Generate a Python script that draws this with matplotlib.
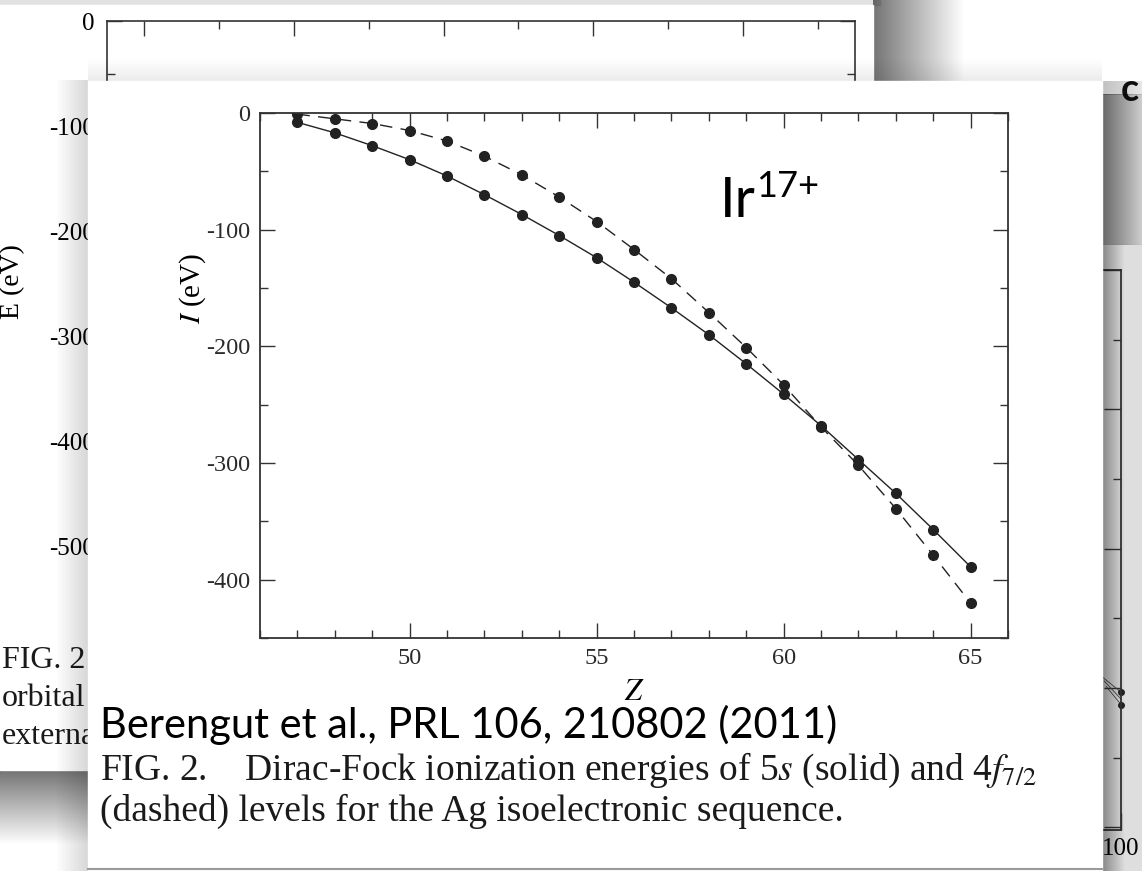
import numpy as np
import matplotlib
matplotlib.use('Agg')
import matplotlib.pyplot as plt
from matplotlib.patches import Rectangle
from matplotlib.ticker import MultipleLocator

# Dirac-Fock ionization energies, Ag isoelectronic sequence
Z = [47, 48, 49, 50, 51, 52, 53, 54, 55, 56, 57, 58, 59, 60, 61, 62, 63, 64, 65]
E_5s = [-8, -17, -28, -40, -54, -70, -87, -105, -124, -145, -167, -190, -215,
        -241, -268, -297, -326, -357, -389]
E_4f72 = [-1, -5, -9, -15, -24, -37, -53, -72, -93, -117, -142, -171, -201,
          -233, -269, -302, -339, -379, -420]

x_ticks = [50, 55, 60, 65]
y_ticks = [0, -100, -200, -300, -400]
back_y_ticks = [0, -100, -200, -300, -400, -500]

# bits of the slide figure on the right that peek out
right_x = [100, 100]
right_y = [-3.03, -3.12]
right_lines_x = [[95.5, 100], [96.0, 100], [96.5, 100]]
right_lines_y = [[-2.92, -3.03], [-2.95, -3.08], [-2.99, -3.12]]

plt.rcParams['font.family'] = ['Liberation Serif', 'DejaVu Serif']
plt.rcParams['mathtext.fontset'] = 'stix'
plt.rcParams['axes.unicode_minus'] = False

W, H = 1142, 871
ink = '#222222'


def box(x0, y0, x1, y1):
    # pixel box (y down) -> figure fraction
    return [x0 / W, 1 - y1 / H, (x1 - x0) / W, (y1 - y0) / H]


def shade(ax, x0, x1, y0, y1, a0, a1, axis='x', z=1):
    t = np.linspace(a0, a1, 100)
    if axis == 'x':
        img = np.zeros((2, 100, 4))
        img[:, :, 3] = t
    else:
        img = np.zeros((100, 2, 4))
        img[:, :, 3] = t[:, None]
    ax.imshow(img, extent=(x0, x1, y1, y0), aspect='auto',
              interpolation='bilinear', zorder=z)


def pixel_axes(z):
    ax = fig.add_axes([0, 0, 1, 1], zorder=z)
    ax.set_facecolor('none')
    ax.set_autoscale_on(False)
    ax.axis('off')
    return ax


fig = plt.figure(figsize=(W / 100, H / 100), dpi=100, facecolor='white')

# ---- slide background + the paper figure behind ----
bg = pixel_axes(0)
bg.add_patch(Rectangle((0, 0), 880, 5, color='#e2e2e2', zorder=1))
shade(bg, 873, 965, 0, 95, 0.55, 0.0, 'x', z=1)
shade(bg, 0, 95, 770, 845, 0.55, 0.0, 'y', z=1)
bg.add_patch(Rectangle((0, 5), 873, 765, color='white', zorder=2))
bg.add_patch(Rectangle((1102, 245), 40, 626, color='#dedede', zorder=1))
bg.text(1121, 101, 'c', fontfamily='Lato', fontsize=27, fontweight='bold',
        color='#111111', va='baseline', zorder=3)
for i, line in enumerate(['FIG. 2', 'orbital', 'externa']):
    bg.text(2, 668 + 38 * i, line, fontsize=23, color='#1a1a1a', va='baseline', zorder=3)
bg.set_xlim(0, W)
bg.set_ylim(H, 0)

back = fig.add_axes(box(107, 21, 855, 600), zorder=1)
back.set_facecolor('none')
back.set_xlim(-5, 95)
back.set_ylim(-551, 0)
back.xaxis.set_major_locator(MultipleLocator(20))
back.xaxis.set_minor_locator(MultipleLocator(10))
back.yaxis.set_minor_locator(MultipleLocator(50))
back.set_yticks(back_y_ticks)
back.set_yticklabels([str(v) for v in back_y_ticks])
back.tick_params(which='both', direction='in', top=True, right=True,
                 labelbottom=False, color='#333333', width=1.0)
back.tick_params(which='major', length=11, labelsize=18, pad=9)
back.tick_params(which='minor', length=6)
for s in back.spines.values():
    s.set_linewidth(1.2)
    s.set_color('#333333')
back.set_ylabel('E (eV)', fontsize=20)
back.yaxis.set_label_coords(-0.11, 0.55)

right = fig.add_axes(box(700, 270, 1121, 830), zorder=1)
right.set_facecolor('none')
right.set_xlim(0, 100)
right.set_ylim(-4.02, 0)
right.set_xticks([100])
right.set_xticklabels(['100'])
right.yaxis.set_major_locator(MultipleLocator(1))
right.yaxis.set_minor_locator(MultipleLocator(0.5))
right.tick_params(which='both', direction='in', right=True, labelleft=False,
                  color='#333333', width=1.0)
right.tick_params(which='major', length=12, labelsize=18, pad=6)
right.tick_params(which='minor', length=6)
for s in right.spines.values():
    s.set_color('#333333')
    s.set_linewidth(1.3)
for lx, ly in zip(right_lines_x, right_lines_y):
    right.plot(lx, ly, color='#444444', lw=0.6)
right.plot(right_x, right_y, 'o', color=ink, ms=4, clip_on=False)

# ---- the front paper figure ----
front = pixel_axes(2)
shade(front, 55, 88, 81, 871, 0.0, 0.16, 'x', z=1)
shade(front, 88, 1102, 58, 81, 0.0, 0.08, 'y', z=1)
shade(front, 1102, 1142, 95, 245, 0.6, 0.2, 'x', z=1)
shade(front, 1102, 1142, 81, 95, 0.25, 0.1, 'x', z=1)
shade(front, 1102, 1125, 245, 871, 0.4, 0.0, 'x', z=1)
front.add_patch(Rectangle((88, 81), 1014, 790, color='white', zorder=2))
front.plot([88, 1102], [869, 869], color='#9a9a9a', lw=1.5, zorder=3)
front.text(100, 738, 'Berengut et al., PRL 106, 210802 (2011)',
           fontfamily='Lato', fontsize=30, color='black', va='baseline', zorder=4)
front.text(100, 780, 'FIG. 2.    Dirac-Fock ionization energies of 5$s$ (solid) and 4$f_{7/2}$',
           fontsize=27, color='#1a1a1a', va='baseline', zorder=4)
front.text(100, 821, '(dashed) levels for the Ag isoelectronic sequence.',
           fontsize=27, color='#1a1a1a', va='baseline', zorder=4)
front.set_xlim(0, W)
front.set_ylim(H, 0)

ax = fig.add_axes(box(260, 113, 1008, 638), zorder=3)
ax.set_facecolor('none')
ax.plot(Z, E_5s, '-o', color=ink, lw=1.0, ms=7)
ax.plot(Z, E_4f72, '--o', color=ink, lw=1.0, ms=7, dashes=(9, 6))
ax.set_xlim(46, 66)
ax.set_ylim(-450, 0)
ax.set_xticks(x_ticks)
ax.set_yticks(y_ticks)
ax.set_yticklabels([str(v) for v in y_ticks])
ax.xaxis.set_minor_locator(MultipleLocator(1))
ax.yaxis.set_minor_locator(MultipleLocator(50))
ax.tick_params(which='both', direction='in', top=True, right=True,
               color='#333333', width=1.0, labelcolor='#2a2a2a')
ax.tick_params(which='major', length=11, labelsize=17.5, pad=7)
ax.tick_params(which='minor', length=6)
for s in ax.spines.values():
    s.set_linewidth(1.3)
    s.set_color('#333333')
ax.set_xlabel('$Z$', fontsize=22)
ax.xaxis.set_label_coords(0.5, -0.076)
ax.set_ylabel('$I$ (eV)', fontsize=21)
ax.yaxis.set_label_coords(-0.07, 0.667)

ax.text(0.615, 0.802, 'Ir', transform=ax.transAxes, fontfamily='Lato',
        fontsize=40, va='baseline')
ax.text(0.663, 0.84, '17+', transform=ax.transAxes, fontfamily='Lato',
        fontsize=26, va='baseline')

fig.savefig('out.png', dpi=100)
